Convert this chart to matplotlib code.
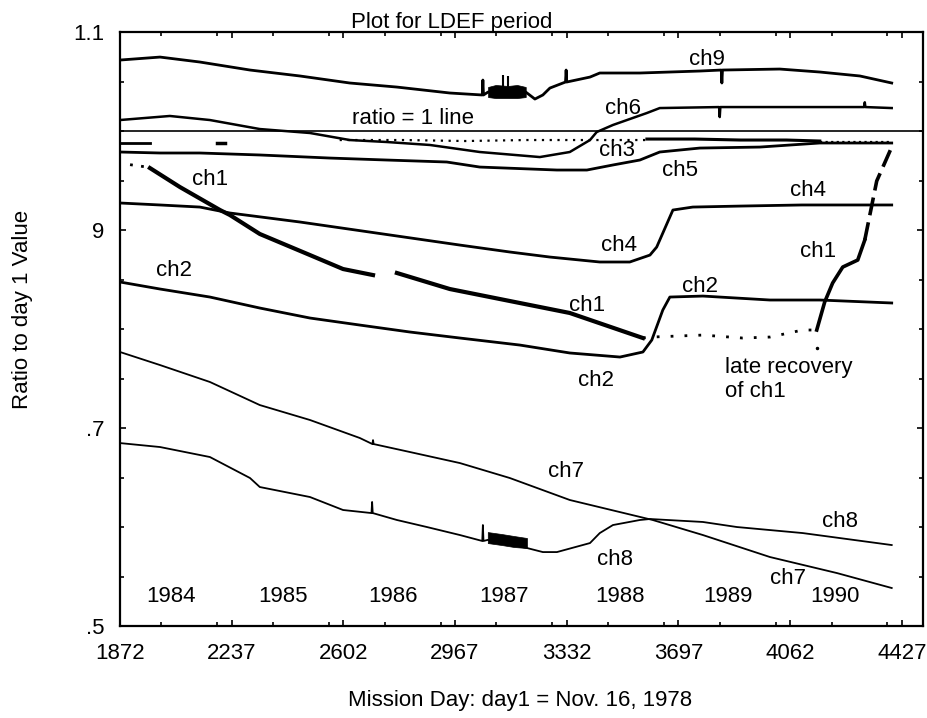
import matplotlib
matplotlib.use('Agg')
import matplotlib.pyplot as plt
from matplotlib.ticker import FixedLocator, MultipleLocator

plt.rcParams['font.family'] = ['Liberation Sans Narrow', 'Liberation Sans', 'DejaVu Sans']
FS = 16

# mission day / ratio values
ch9_x = [1872, 2003, 2133, 2297, 2460, 2623, 2777, 2950, 3056, 3058, 3060, 3075, 3198, 3228, 3254, 3277,
         3328, 3330, 3332, 3408, 3440, 3571, 3767, 3837, 3839, 3841, 4028, 4159, 4290, 4394]
ch9_y = [1.0717, 1.0747, 1.0697, 1.0616, 1.0556, 1.0485, 1.0444, 1.0384, 1.0364, 1.0515, 1.0364, 1.0394,
         1.0394, 1.0323, 1.0364, 1.0434, 1.0495, 1.0616, 1.0495, 1.0545, 1.0586, 1.0586, 1.0606, 1.0616,
         1.0485, 1.0616, 1.0626, 1.0596, 1.0556, 1.0485]
ch9_band_x = [3075, 3100, 3140, 3170, 3198]
ch9_band_lo = [1.0343, 1.0333, 1.0333, 1.0333, 1.0343]
ch9_band_hi = [1.0445, 1.0465, 1.0455, 1.0465, 1.0445]
ch9_spike_x = [3123, 3140]
ch9_spike_top = [1.0566, 1.0556]

ch6_x = [1872, 2035, 2166, 2329, 2493, 2623, 2744, 2885, 3048, 3244, 3342, 3408, 3430, 3483, 3594, 3636,
         3830, 3832, 3834, 4304, 4306, 4308, 4394]
ch6_y = [1.0111, 1.0152, 1.0111, 1.0020, 0.9980, 0.9909, 0.9889, 0.9859, 0.9788, 0.9737, 0.9788, 0.9909,
         0.9990, 1.0061, 1.0182, 1.0232, 1.0242, 1.0141, 1.0242, 1.0242, 1.0290, 1.0242, 1.0232]

ch3_frag1_x = [1872, 1970]
ch3_frag1_y = [0.9879, 0.9879]
ch3_frag2_x = [2190, 2215]
ch3_frag2_y = [0.9879, 0.9879]
ch3_dot_x = [2590, 2800, 3000, 3200, 3400, 3594]
ch3_dot_y = [0.9909, 0.9909, 0.9899, 0.9909, 0.9909, 0.9909]
ch3_solid_x = [3594, 3750, 3900, 4050, 4159]
ch3_solid_y = [0.9919, 0.9919, 0.9909, 0.9909, 0.9899]
ch3_tail_x = [4159, 4394]
ch3_tail_y = [0.9889, 0.9889]

ch5_x = [1872, 2003, 2133, 2329, 2558, 2744, 2940, 3048, 3300, 3398, 3483, 3571, 3636, 3767, 3963, 4159, 4394]
ch5_y = [0.9788, 0.9778, 0.9778, 0.9758, 0.9727, 0.9707, 0.9687, 0.9636, 0.9606, 0.9606, 0.9657, 0.9707,
         0.9788, 0.9828, 0.9838, 0.9879, 0.9879]

ch4_x = [1872, 2003, 2133, 2231, 2460, 2983, 3146, 3277, 3440, 3538, 3604, 3626, 3679, 3744, 3900, 4100, 4394]
ch4_y = [0.9273, 0.9253, 0.9232, 0.9172, 0.9081, 0.8848, 0.8778, 0.8727, 0.8677, 0.8677, 0.8747, 0.8828,
         0.9202, 0.9232, 0.9242, 0.9253, 0.9253]

ch1_pre_x = [1905, 1960]
ch1_pre_y = [0.9660, 0.9636]
ch1_a_x = [1970, 2068, 2199, 2231, 2329, 2493, 2601, 2699]
ch1_a_y = [0.9626, 0.9434, 0.9202, 0.9152, 0.8960, 0.8747, 0.8606, 0.8545]
ch1_b_x = [2777, 2950, 3146, 3342, 3581]
ch1_b_y = [0.8566, 0.8404, 0.8283, 0.8162, 0.7909]
ch1_gap_x = [3581, 3610, 3777, 3907, 3996, 4103, 4149]
ch1_gap_y = [0.7909, 0.7919, 0.7939, 0.7909, 0.7919, 0.7990, 0.7990]
ch1_rec_x = [4149, 4175, 4201, 4234, 4283, 4306]
ch1_rec_y = [0.7990, 0.8273, 0.8465, 0.8626, 0.8697, 0.8899]
ch1_end_x = [4306, 4345, 4394]
ch1_end_y = [0.8899, 0.9495, 0.9838]
ch1_dot_x = [4149]
ch1_dot_y = [0.7808]

ch2_x = [1872, 2003, 2166, 2329, 2493, 2656, 2819, 2983, 3179, 3342, 3506, 3581, 3610, 3646, 3669, 3777,
         3996, 4159, 4394]
ch2_y = [0.8475, 0.8404, 0.8323, 0.8212, 0.8111, 0.8040, 0.7970, 0.7909, 0.7838, 0.7758, 0.7717, 0.7768,
         0.7889, 0.8192, 0.8323, 0.8333, 0.8293, 0.8293, 0.8263]

ch7_x = [1872, 2003, 2166, 2329, 2493, 2656, 2697, 2699, 2701, 2819, 2983, 3146, 3342, 3613, 3777, 3996,
         4215, 4394]
ch7_y = [0.7768, 0.7636, 0.7465, 0.7232, 0.7081, 0.6899, 0.6838, 0.6878, 0.6838, 0.6758, 0.6646, 0.6495,
         0.6273, 0.6071, 0.5919, 0.5697, 0.5535, 0.5384]

ch8_x = [1872, 2003, 2166, 2297, 2329, 2493, 2601, 2694, 2696, 2698, 2777, 2875, 2983, 3056, 3058, 3060,
         3074, 3202, 3254, 3300, 3408, 3440, 3483, 3571, 3604, 3777, 3888, 4103, 4394]
ch8_y = [0.6848, 0.6808, 0.6707, 0.6495, 0.6404, 0.6303, 0.6172, 0.6141, 0.6253, 0.6141, 0.6071, 0.6000,
         0.5919, 0.5859, 0.6020, 0.5859, 0.5870, 0.5788, 0.5747, 0.5747, 0.5838, 0.5939, 0.6020, 0.6071,
         0.6081, 0.6051, 0.6000, 0.5939, 0.5818]
ch8_band_x = [3074, 3120, 3160, 3202]
ch8_band_lo = [0.5838, 0.5818, 0.5798, 0.5788]
ch8_band_hi = [0.5949, 0.5929, 0.5909, 0.5889]

year_labels = ['1984', '1985', '1986', '1987', '1988', '1989', '1990']
year_x = [2039, 2405, 2764, 3127, 3506, 3858, 4208]
year_y = 0.530

ch_labels = [('ch9', 3790, 1.0727), ('ch6', 3515, 1.0232), ('ch3', 3496, 0.9800), ('ch5', 3702, 0.9606),
             ('ch1', 2166, 0.9515), ('ch4', 4120, 0.9404), ('ch4', 3502, 0.8848), ('ch1', 4153, 0.8788),
             ('ch2', 2048, 0.8596), ('ch2', 3767, 0.8434), ('ch1', 3398, 0.8242), ('ch2', 3427, 0.7485),
             ('ch7', 3330, 0.6561), ('ch8', 4224, 0.6051), ('ch8', 3489, 0.5667), ('ch7', 4054, 0.5485)]

x_ticks = [1872, 2237, 2602, 2967, 3332, 3697, 4062, 4427]
y_ticks = [0.5, 0.7, 0.9, 1.1]
y_ticklabels = ['.5', '.7', '9', '1.1']

fig = plt.figure(figsize=(9.27, 7.18), dpi=100)
ax = fig.add_axes([0.1294, 0.1281, 0.8662, 0.8273])

ax.axhline(1.0, color='black', lw=1.2)

ax.plot(ch9_x, ch9_y, color='black', lw=2.0)
ax.fill_between(ch9_band_x, ch9_band_lo, ch9_band_hi, color='black', lw=0.5)
ax.vlines(ch9_spike_x, 1.0400, ch9_spike_top, color='black', lw=1.5)
ax.plot(ch6_x, ch6_y, color='black', lw=1.8)
ax.plot(ch3_frag1_x, ch3_frag1_y, color='black', lw=2.0)
ax.plot(ch3_frag2_x, ch3_frag2_y, color='black', lw=2.5)
ax.plot(ch3_dot_x, ch3_dot_y, color='black', lw=1.6, ls=(0, (1, 2.5)))
ax.plot(ch3_solid_x, ch3_solid_y, color='black', lw=2.2)
ax.plot(ch3_tail_x, ch3_tail_y, color='black', lw=1.6, ls=(0, (1, 1.5)))
ax.plot(ch5_x, ch5_y, color='black', lw=2.0)
ax.plot(ch4_x, ch4_y, color='black', lw=2.0)
ax.plot(ch1_pre_x, ch1_pre_y, color='black', lw=2.0, ls=(0, (1, 3)))
ax.plot(ch1_a_x, ch1_a_y, color='black', lw=3.0)
ax.plot(ch1_b_x, ch1_b_y, color='black', lw=3.0)
ax.plot(ch1_gap_x, ch1_gap_y, color='black', lw=2.0, ls=(0, (1, 4)))
ax.plot(ch1_rec_x, ch1_rec_y, color='black', lw=2.6)
ax.plot(ch1_end_x, ch1_end_y, color='black', lw=2.6, ls=(0, (5, 2)))
ax.plot(ch1_dot_x, ch1_dot_y, 'k.', ms=3)
ax.plot(ch2_x, ch2_y, color='black', lw=2.0)
ax.plot(ch7_x, ch7_y, color='black', lw=1.3)
ax.plot(ch8_x, ch8_y, color='black', lw=1.3)
ax.fill_between(ch8_band_x, ch8_band_lo, ch8_band_hi, color='black', lw=0.5)

for name, x, y in ch_labels:
    ax.text(x, y, name, fontsize=FS, ha='center', va='center')
for name, x in zip(year_labels, year_x):
    ax.text(x, year_y, name, fontsize=FS, ha='center', va='center')

ax.text(2829, 1.002, 'ratio = 1 line', fontsize=FS, ha='center', va='bottom')
ax.text(3849, 0.7616, 'late recovery', fontsize=FS, ha='left', va='center')
ax.text(3849, 0.7364, 'of ch1', fontsize=FS, ha='left', va='center')
ax.text(2957, 1.104, 'Plot for LDEF period', fontsize=FS, ha='center', va='baseline')

ax.set_xlim(1872, 4496)
ax.set_ylim(0.5, 1.1)
ax.xaxis.set_major_locator(FixedLocator(x_ticks))
ax.set_xticklabels([str(t) for t in x_ticks])
ax.xaxis.set_minor_locator(MultipleLocator(182.5))
ax.yaxis.set_major_locator(FixedLocator(y_ticks))
ax.set_yticklabels(y_ticklabels)
ax.yaxis.set_minor_locator(MultipleLocator(0.05))
ax.tick_params(which='both', direction='in', top=True, right=True, width=1.2)
ax.tick_params(which='major', length=4, labelsize=FS)
ax.tick_params(which='minor', length=3)
ax.tick_params(axis='x', pad=12)
ax.tick_params(axis='y', pad=11)
for s in ax.spines.values():
    s.set_linewidth(1.6)

fig.text(0.561, 0.025, 'Mission Day: day1 = Nov. 16, 1978', fontsize=FS, ha='center', va='center')
fig.text(0.0248, 0.5696, 'Ratio to day 1 Value', fontsize=FS, ha='center', va='center', rotation=90)

fig.savefig('out.png', dpi=100)
